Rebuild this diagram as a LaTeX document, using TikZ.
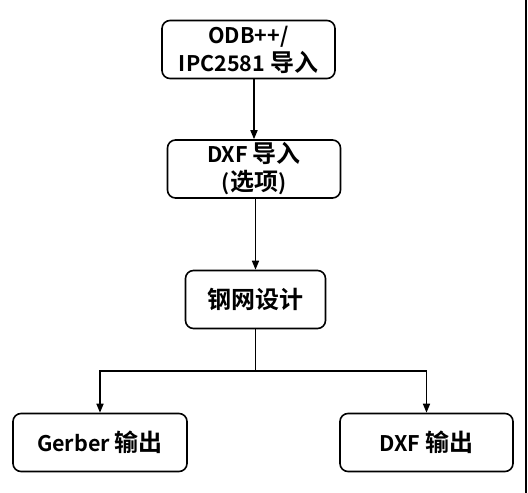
\documentclass[tikz,border=0pt]{standalone}
\usepackage{fontspec}
\setmainfont{Noto Sans CJK SC}[BoldFont={* Bold}]
\usepackage{tikz}
\usetikzlibrary{arrows.meta, positioning}
\newcommand{\zh}[1]{{\fontsize{24}{28}\selectfont #1}}

\begin{document}
\begin{tikzpicture}[
  x=1pt, y=-1pt,
  box/.style={rectangle, rounded corners=8pt, draw=black, line width=1.6pt,
               minimum height=58pt, align=center, inner sep=0pt,
               font=\fontsize{21.5}{28}\selectfont\bfseries},
  arrow/.style={-{Triangle[length=9pt, width=7pt]}, line width=1.6pt},
  link/.style={line width=1.6pt}
]
  \useasboundingbox (0,0) rectangle (528,493);
  \node[box, minimum width=173pt] (odb)    at (248.5,49.5) {ODB++/\\IPC2581 \zh{导入}};
  \node[box, minimum width=173pt] (dxfin)  at (254,169)    {DXF \zh{导入}\\(\zh{选项})};
  \node[box, minimum width=140pt] (design) at (255.5,299.5) {\zh{钢网设计}};
  \node[box, minimum width=174pt] (gerber) at (100,442.5)  {Gerber \zh{输出}};
  \node[box, minimum width=173pt] (dxfout) at (426.5,442.5) {DXF \zh{输出}};
  \coordinate (split) at (255.5,371);
  \coordinate (edgetop) at (526,0);
  \coordinate (edgebot) at (526,493);

  \draw[arrow] (odb.south -| dxfin.north) -- (dxfin.north);
  \draw[arrow] (dxfin.south -| design.north) -- (design.north);
  \draw[link]  (design.south) -- (split);
  \draw[arrow] (split) -| (gerber.north);
  \draw[arrow] (split) -| (dxfout.north);
  \draw[line width=1.8pt] (edgetop) -- (edgebot);
\end{tikzpicture}
\end{document}
